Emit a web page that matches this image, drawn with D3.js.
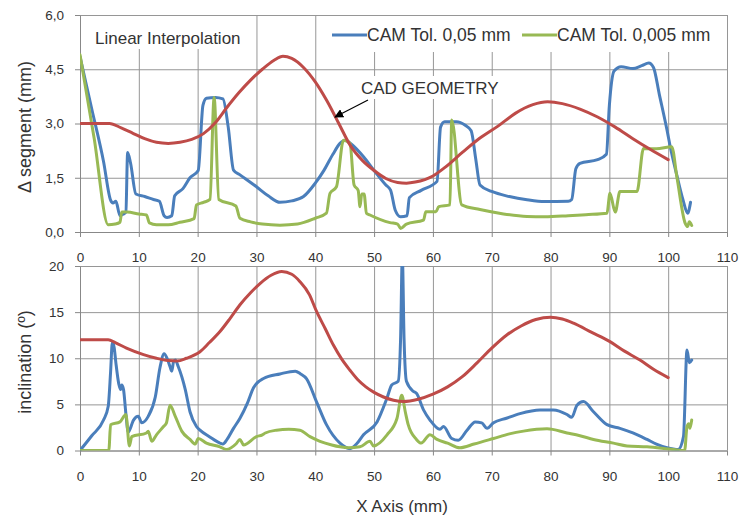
<!DOCTYPE html>
<html>
<head>
<meta charset="utf-8">
<script src="https://cdn.jsdelivr.net/npm/d3@7"></script>
<style>
  body { margin: 0; background: #fff; }
  text { font-family: "Liberation Sans", Arial, sans-serif; fill: #333; }
</style>
</head>
<body>
<svg id="chart" width="739" height="517"></svg>
<script>
// ---- data ----
const xTicks = [0, 10, 20, 30, 40, 50, 60, 70, 80, 90, 100, 110];
const segTicks = [0, 1.5, 3, 4.5, 6];
const segTickLabels = ["0,0", "1,5", "3,0", "4,5", "6,0"];
const incTicks = [0, 5, 10, 15, 20];

const seriesNames = ["CAM Tol. 0,05 mm", "CAM Tol. 0,005 mm"];

// top chart: delta segment (mm)
const segBlue = [[0,4.85],[2,3.4],[4,1.95],[5.2,0.88],[5.6,0.8],[6.1,0.85],[6.8,0.45],[7.4,0.5],[7.8,0.55],
  [8.1,2.2],[8.6,1.9],[9.5,1.05],[11,0.98],[12.5,0.9],[13.5,0.85],[14.3,0.45],[14.8,0.4],[15.6,0.45],
  [16.1,1.0],[17.5,1.2],[18.7,1.5],[20.1,1.7],[20.9,3.5],[21.5,3.7],[23,3.72],[24.3,3.68],[25.2,2.9],
  [26.1,1.71],[27.2,1.58],[30,1.25],[32,1.0],[34,0.82],[36,0.86],[38,0.98],[40,1.35],[41.5,1.71],
  [43,2.15],[44.2,2.45],[45.1,2.54],[46.2,2.42],[48.2,2.08],[50,1.7],[52,1.3],[52.8,1.16],[53.6,0.6],
  [54.5,0.42],[55.6,0.45],[56,0.95],[58,1.15],[60.7,1.4],[61.3,2.9],[62,3.05],[64,3.05],[65.5,2.95],
  [66.5,2.8],[67.3,2.0],[68,1.3],[70,1.12],[73,0.98],[76,0.89],[79,0.84],[83,0.85],[83.6,0.9],
  [84.3,1.75],[85,1.9],[88,2.0],[89.5,2.15],[90,3.5],[90.8,4.45],[92,4.57],[94,4.52],[95.5,4.6],
  [96.7,4.67],[97.5,4.55],[98.5,3.8],[99.8,2.82],[100.3,2.4],[101.5,1.55],[102.5,0.9],[103.3,0.52],[103.8,0.82]];

const segGreen = [[0,4.9],[2.4,2.6],[4.8,0.2],[6,0.22],[6.8,0.27],[7.1,0.55],[8,0.55],[10,0.5],[11.3,0.47],
  [11.8,0.25],[13,0.2],[15,0.2],[17,0.27],[19.4,0.37],[19.8,0.75],[21,0.82],[22.1,0.9],[22.8,3.72],
  [23.6,0.9],[26.5,0.72],[27.2,0.38],[29,0.28],[31,0.22],[34,0.19],[37,0.22],[40,0.38],[41.9,0.52],
  [42.5,1.07],[43.6,1.25],[44.8,2.54],[45.9,2.45],[46.6,1.3],[47.3,1.15],[47.6,0.7],[47.9,1.05],
  [48.3,1.05],[48.7,0.52],[49.3,0.47],[52.7,0.26],[54,0.22],[54.5,0.1],[55.5,0.22],[58.4,0.33],
  [58.8,0.56],[60.5,0.56],[61,0.7],[62.9,0.75],[63.2,3.1],[64.9,0.75],[68,0.62],[72,0.5],[76,0.43],
  [79,0.42],[83,0.45],[86,0.48],[89.6,0.52],[90.1,1.07],[91,0.55],[91.8,1.12],[94.7,1.12],[95.8,2.31],
  [98,2.3],[100.6,2.36],[101.5,1.5],[102.9,0.24],[103.3,0.15],[103.6,0.28],[104,0.18]];

const segCad = [[0,3.0],[5,3.0],[7,2.88],[9,2.73],[11,2.58],[13,2.48],[15,2.45],[17,2.48],[19,2.56],
  [21,2.72],[23,3.02],[25,3.45],[27,3.85],[29,4.2],[31,4.5],[33,4.75],[34.5,4.86],[36,4.8],[38,4.55],
  [40,4.15],[42,3.62],[44,3.0],[46,2.38],[48,1.98],[50,1.7],[52,1.48],[54,1.37],[55.5,1.35],[57,1.38],
  [60,1.55],[62,1.78],[65,2.2],[68,2.6],[71,2.92],[74,3.28],[77,3.52],[79.5,3.6],[82,3.55],[85,3.4],
  [88,3.18],[91,2.9],[94,2.58],[97,2.28],[100,2.0]];

// bottom chart: inclination (deg)
const incBlue = [[0,0],[2,1.6],[4,3.3],[4.8,4.8],[5.2,8.5],[5.5,11.7],[5.8,11.2],[6.1,9.5],[6.6,7.2],
  [6.9,6.6],[7.1,7.1],[7.4,6.6],[7.8,4.0],[8.2,2.0],[9.1,3.3],[9.9,3.7],[10.5,3.0],[11.6,3.7],[12.8,5.8],
  [13.6,9.0],[14.3,10.5],[14.8,10.0],[15.3,9.1],[15.6,8.6],[15.9,9.6],[16.2,9.8],[16.7,9.1],[17.9,6.6],
  [18.7,4.2],[19.8,2.6],[20.4,2.2],[22,1.5],[23.8,0.8],[24.3,0.7],[25,1.2],[26.1,2.4],[27.2,3.5],
  [28.5,5.2],[29.5,6.8],[31.2,7.8],[34,8.3],[36.6,8.6],[37.5,8.3],[38.5,7.8],[40.2,5.3],[41.9,2.8],
  [44.2,0.8],[45.9,0.2],[47,0.7],[48.2,1.7],[50.5,3.1],[52.2,5.7],[53,7.1],[54.1,7.5],[54.5,12],
  [54.8,21],[55.1,12],[55.5,7.5],[56.7,6.4],[57.2,6.2],[58.4,4.4],[59.5,3.3],[61.2,2.3],[61.8,2.6],
  [63.2,1.3],[64.3,1.1],[65.8,2.2],[67.2,3.1],[68.3,3.0],[69.2,2.4],[70.3,3.0],[72.5,3.5],[74.8,4.0],
  [78.2,4.4],[80.5,4.4],[82.8,3.9],[83.6,3.6],[84.5,4.9],[85.6,5.3],[87.3,4.2],[89.6,2.8],[91.8,2.4],
  [94,1.9],[96.4,1.2],[98,0.7],[99.8,0.3],[101.7,0.1],[102.6,1.5],[103.2,10.9],[103.6,9.5],[104,9.8]];

const incGreen = [[0,0],[4.9,0],[5.2,2.8],[6.8,3.1],[7.8,3.9],[8.4,0.5],[8.8,1.5],[11.3,1.9],[11.6,2.1],
  [12.2,1.0],[13,1.7],[14.2,2.6],[14.7,3.0],[15.3,4.9],[16.2,3.7],[17.3,2.1],[18.7,1.2],[19.6,0.7],
  [20.1,1.3],[21.5,0.8],[23.8,0.4],[24.9,0.1],[26.5,0.7],[27.2,1.2],[27.8,0.6],[30,1.5],[31,1.7],
  [31.5,1.9],[33.4,2.2],[35.5,2.3],[37.4,2.2],[39.1,1.5],[40.8,1.0],[42.8,0.6],[44.2,0.4],[45.6,0.3],
  [47.6,0.4],[49.3,1.0],[49.9,0.5],[52.2,1.7],[53.9,3.5],[54.7,6.0],[55.3,4.2],[55.8,2.8],[57.2,1.2],
  [58,0.8],[59.5,1.7],[60.7,1.2],[62.5,0.8],[64.6,0.3],[67,0.7],[70.3,1.3],[73,1.8],[75.4,2.1],
  [79.4,2.35],[82.8,1.9],[85,1.6],[87.3,1.2],[90.7,0.8],[93,0.5],[96.4,0.4],[100.9,0.1],[102.8,0],
  [103.2,2.6],[103.5,2.9],[103.7,2.4],[104,3.3]];

const incCad = [[0,12],[4.8,12],[6,11.7],[7.9,11.1],[10.8,10.4],[13,10.0],[15,9.75],[16.5,9.7],[18.1,10.0],
  [20.4,10.7],[22,11.7],[23.8,12.9],[25.5,14.3],[27.2,15.8],[29,17.1],[30.6,18.1],[32.5,19.0],[34.3,19.4],
  [36,19.1],[37.4,18.3],[39,16.9],[40.2,15.1],[41.7,13.2],[43.1,11.4],[44.5,9.9],[45.9,8.7],[47.2,7.7],
  [48.6,6.9],[50,6.3],[51.6,5.8],[53.3,5.45],[55,5.3],[57.5,5.55],[60,6.1],[62.5,6.9],[65,8.0],
  [67.5,9.5],[70,11.1],[72.5,12.5],[75,13.5],[77.5,14.2],[80,14.45],[82,14.25],[83.9,13.8],[87,12.8],
  [90.1,11.8],[92.5,10.8],[95.2,9.8],[97.5,8.8],[100,7.9]];

// ---- look ----
const colors = { blue: "#4a7ebb", green: "#98b954", red: "#be4b48" };
const gridColor = "#969696";

const svg = d3.select("#chart");
const x = d3.scaleLinear().domain([0, 110]).range([80, 727]);
const ySeg = d3.scaleLinear().domain([0, 6]).range([232, 15]);
const yInc = d3.scaleLinear().domain([0, 20]).range([450.5, 266]);
const plotW = x.range()[1] - x.range()[0];

function panel(y, yTicks, yFmt, labelPad, id) {
  const [y0, y1] = y.range();
  const g = svg.append("g");

  // grid
  g.append("g").attr("transform", `translate(${x(0)},0)`)
    .call(d3.axisLeft(y).tickValues(yTicks).tickSize(-plotW).tickFormat(""))
    .call(a => a.select(".domain").remove())
    .call(a => a.selectAll("line").attr("stroke", gridColor));
  g.append("g").attr("transform", `translate(0,${y0})`)
    .call(d3.axisBottom(x).tickValues(xTicks).tickSize(-(y0 - y1)).tickFormat(""))
    .call(a => a.select(".domain").remove())
    .call(a => a.selectAll("line").attr("stroke", gridColor));

  // axes with labels
  g.append("g").attr("transform", `translate(${x(0)},0)`)
    .call(d3.axisLeft(y).tickValues(yTicks).tickSize(5).tickSizeOuter(0).tickPadding(11).tickFormat(yFmt))
    .call(a => a.selectAll("line,path").attr("stroke", "#888"))
    .call(a => a.selectAll("text").attr("font-size", 13.5).attr("font-family", null).attr("fill", "#333"));
  g.append("g").attr("transform", `translate(0,${y0})`)
    .call(d3.axisBottom(x).tickValues(xTicks).tickSize(5).tickSizeOuter(0).tickPadding(labelPad))
    .call(a => a.selectAll("line,path").attr("stroke", "#888"))
    .call(a => a.selectAll("text").attr("font-size", 13.5).attr("font-family", null).attr("fill", "#333"));

  svg.append("clipPath").attr("id", id)
    .append("rect").attr("x", x(0)).attr("y", y1).attr("width", plotW).attr("height", y0 - y1);
  return g.append("g").attr("clip-path", `url(#${id})`);
}

function drawLines(layer, y, list) {
  const line = d3.line().x(d => x(d[0])).y(d => y(d[1])).curve(d3.curveMonotoneX);
  list.forEach(([data, col]) => {
    layer.append("path").datum(data).attr("d", line)
      .attr("fill", "none").attr("stroke", col).attr("stroke-width", 3)
      .attr("stroke-linejoin", "round").attr("stroke-linecap", "round");
  });
}

// top panel
const topLayer = panel(ySeg, segTicks, (d, i) => segTickLabels[i], 15, "clipTop");

// white boxes behind in-plot labels
svg.append("rect").attr("x", 82).attr("y", 16).attr("width", 168).attr("height", 33).attr("fill", "#fff");
svg.append("rect").attr("x", 318).attr("y", 16).attr("width", 408).attr("height", 36).attr("fill", "#fff");
svg.append("rect").attr("x", 357).attr("y", 76).attr("width", 146).attr("height", 23).attr("fill", "#fff");

drawLines(topLayer, ySeg, [[segBlue, colors.blue], [segGreen, colors.green], [segCad, colors.red]]);

// bottom panel
const botLayer = panel(yInc, incTicks, d3.format("d"), 16, "clipBot");
drawLines(botLayer, yInc, [[incBlue, colors.blue], [incGreen, colors.green], [incCad, colors.red]]);

// labels
svg.append("text").attr("x", 95).attr("y", 38).attr("dominant-baseline", "central")
  .attr("font-size", 17).text("Linear Interpolation");

const legend = svg.append("g");
[[seriesNames[0], colors.blue, 332], [seriesNames[1], colors.green, 522]].forEach(([name, col, lx]) => {
  legend.append("line").attr("x1", lx).attr("x2", lx + 35).attr("y1", 35).attr("y2", 35)
    .attr("stroke", col).attr("stroke-width", 3);
  legend.append("text").attr("x", lx + 35).attr("y", 35).attr("dominant-baseline", "central")
    .attr("font-size", 17.5).text(name);
});

svg.append("text").attr("x", 361).attr("y", 88).attr("dominant-baseline", "central")
  .attr("font-size", 17).text("CAD GEOMETRY");

// arrow pointing to the CAD curve
svg.append("defs").append("marker").attr("id", "arrow")
  .attr("viewBox", "0 0 10 10").attr("refX", 9).attr("refY", 5)
  .attr("markerWidth", 9).attr("markerHeight", 9).attr("markerUnits", "userSpaceOnUse")
  .attr("orient", "auto")
  .append("path").attr("d", "M0,0L10,5L0,10z").attr("fill", "#000");
svg.append("line").attr("x1", 368).attr("y1", 100).attr("x2", 335).attr("y2", 117)
  .attr("stroke", "#000").attr("stroke-width", 1.2).attr("marker-end", "url(#arrow)");

svg.append("text").attr("transform", "translate(25,127) rotate(-90)")
  .attr("text-anchor", "middle").attr("dominant-baseline", "central")
  .attr("font-size", 18).text("Δ segment (mm)");
svg.append("text").attr("transform", "translate(25,362) rotate(-90)")
  .attr("text-anchor", "middle").attr("dominant-baseline", "central")
  .attr("font-size", 18).text("inclination (º)");
svg.append("text").attr("x", 402).attr("y", 506).attr("text-anchor", "middle")
  .attr("dominant-baseline", "central").attr("font-size", 17).text("X Axis (mm)");
</script>
</body>
</html>
